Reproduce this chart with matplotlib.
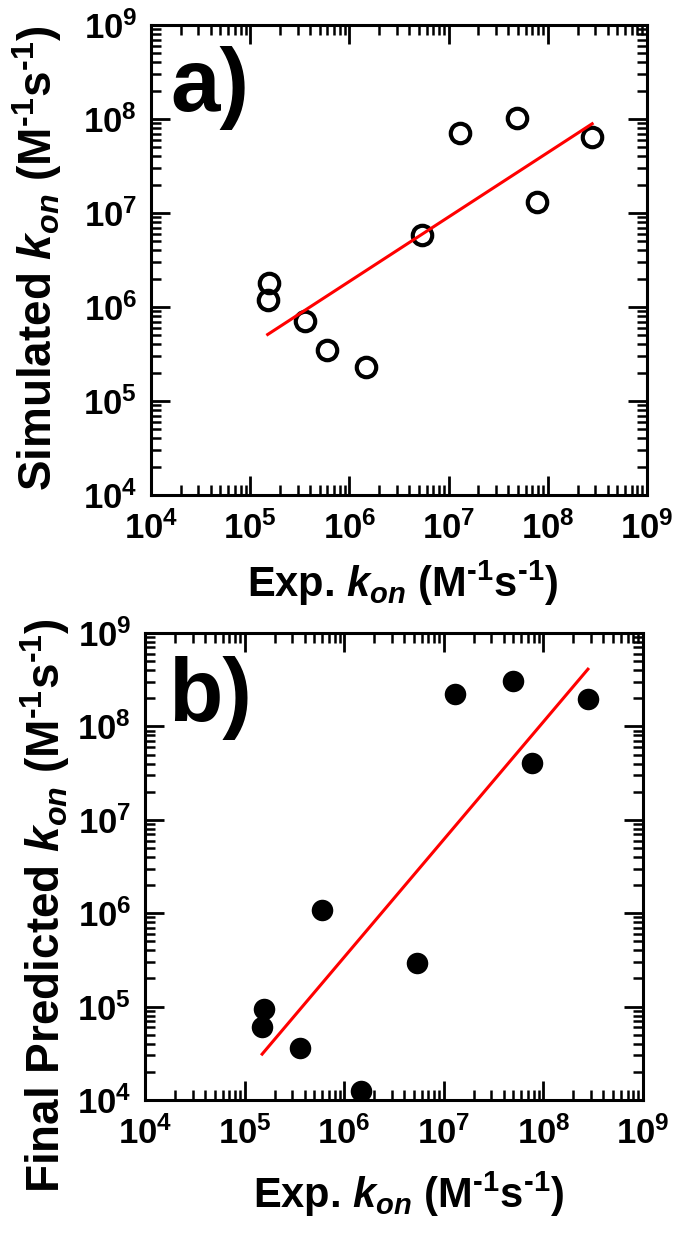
import matplotlib
matplotlib.use("Agg")
import matplotlib.pyplot as plt
from matplotlib.ticker import LogLocator, NullFormatter

plt.rcParams['font.family'] = 'Liberation Sans'
plt.rcParams['font.weight'] = 'bold'
plt.rcParams['mathtext.fontset'] = 'custom'
plt.rcParams['mathtext.default'] = 'regular'
plt.rcParams['mathtext.rm'] = 'Liberation Sans:bold'
plt.rcParams['mathtext.bf'] = 'Liberation Sans:bold'
plt.rcParams['mathtext.it'] = 'Liberation Sans:bold:italic'

# experimental k_on (x) shared by both panels
exp_kon = [1.5e5, 1.55e5, 3.6e5, 6.0e5, 1.47e6, 5.4e6, 1.3e7, 4.9e7, 7.7e7, 2.8e8]
# panel a: simulated k_on
sim_kon = [1.2e6, 1.8e6, 7.1e5, 3.5e5, 2.3e5, 5.9e6, 7.1e7, 1.03e8, 1.3e7, 6.5e7]
# panel b: final predicted k_on
pred_kon = [6.0e4, 9.4e4, 3.6e4, 1.07e6, 1.26e4, 2.9e5, 2.2e8, 3.1e8, 4.1e7, 1.95e8]

# fitted lines (end points)
fit_x = [1.5e5, 2.8e8]
fit_a = [5.1e5, 8.9e7]
fit_b = [3.1e4, 4.1e8]

W, H = 675, 1233
fig = plt.figure(figsize=(W / 100, H / 100), dpi=100)
ax_a = fig.add_axes([151 / W, 1 - 495 / H, 496 / W, 470 / H])
ax_b = fig.add_axes([145 / W, 1 - 1100 / H, 498 / W, 467 / H])

ax_a.plot(exp_kon, sim_kon, 'o', ms=14, mfc='none', mec='black', mew=3)
ax_a.plot(fit_x, fit_a, '-', color='red', lw=2.2)

ax_b.plot(exp_kon, pred_kon, 'o', ms=15.5, color='black', mew=0)
ax_b.plot(fit_x, fit_b, '-', color='red', lw=2.2)

for ax in (ax_a, ax_b):
    ax.set_xscale('log')
    ax.set_yscale('log')
    ax.set_xlim(1e4, 1e9)
    ax.set_ylim(1e4, 1e9)
    for axis in (ax.xaxis, ax.yaxis):
        axis.set_major_locator(LogLocator(base=10, numticks=10))
        axis.set_minor_locator(LogLocator(base=10, subs=range(2, 10), numticks=20))
        axis.set_minor_formatter(NullFormatter())
    ax.tick_params(which='both', direction='in', top=True, right=True)
    ax.tick_params(which='major', length=13.5, width=2, labelsize=25)
    ax.tick_params(which='minor', length=7, width=1.8)
    ax.tick_params(axis='x', pad=12)
    ax.tick_params(axis='y', pad=10)
    for s in ax.spines.values():
        s.set_linewidth(2.2)

ax_a.text(0.04, 0.865, 'a)', transform=ax_a.transAxes, fontsize=64,
          ha='left', va='center')
ax_b.text(0.046, 0.86, 'b)', transform=ax_b.transAxes, fontsize=64,
          ha='left', va='center')

sup = r'(M$^{\text{-}1}$s$^{\text{-}1}$)'
xlab = r'Exp. $\mathit{k}_{\mathit{on}}$ ' + sup
fig.text(403 / W, 1 - 597 / H, xlab, fontsize=30, ha='center', va='baseline')
fig.text(409 / W, 1 - 1208 / H, xlab, fontsize=30, ha='center', va='baseline')

fig.text(52 / W, 1 - 258 / H, r'Simulated $\mathit{k}_{\mathit{on}}$ ' + sup,
         fontsize=33, rotation=90, rotation_mode='anchor', ha='center', va='baseline')
fig.text(60 / W, 1 - 906 / H, r'Final Predicted $\mathit{k}_{\mathit{on}}$ ' + sup,
         fontsize=33, rotation=90, rotation_mode='anchor', ha='center', va='baseline')

fig.savefig('out.png', dpi=100)
